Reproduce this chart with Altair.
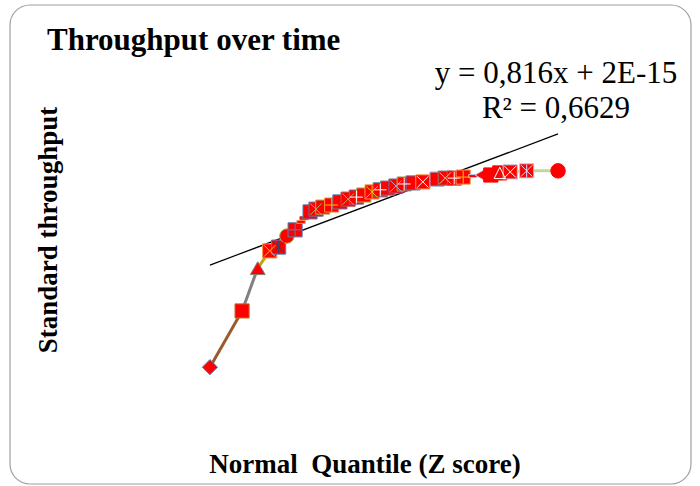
import altair as alt
import pandas as pd

# ---- data ----
z_quantile = [-2.33, -1.90, -1.69, -1.53, -1.41, -1.30, -1.19, -1.11, -1.07, -0.99,
              -0.91, -0.82, -0.70, -0.59, -0.48, -0.37, -0.27, -0.16, -0.05, 0.05,
              0.16, 0.27, 0.39, 0.52, 0.71, 0.82, 0.94, 1.06, 1.19, 1.30,
              1.43, 1.55, 1.69, 1.91, 2.33]
std_throughput = [-4.86, -3.23, -1.99, -1.49, -1.38, -1.06, -0.88, -0.65, -0.54, -0.36,
                  -0.28, -0.22, -0.16, -0.07, 0.01, 0.07, 0.13, 0.22, 0.28, 0.33,
                  0.39, 0.45, 0.48, 0.51, 0.59, 0.62, 0.62, 0.65, 0.68, 0.71,
                  0.71, 0.77, 0.80, 0.83, 0.83]
marker_kind = ["diamond", "square", "triangle-up", "square", "square", "circle", "square", "dash", "dash", "square",
               "square", "square", "square", "square", "square", "square", "square", "square", "square", "square",
               "square", "square", "square", "square", "square", "square", "square", "square", "dash", "triangle-left",
               "square", "square", "square", "square", "circle"]
marker_stroke = ["#4F81BD", "#C0702D", "#7F7F7F", "#F79646", "#4F81BD", "#9BBB59", "#4F81BD", "#F79646", "#C0504D", "#4F81BD",
                 "#8064A2", "#9BBB59", "#F79646", "#4F81BD", "#C0504D", "#8064A2", "#9BBB59", "#F79646", "#4F81BD", "#7F7F7F",
                 "#8064A2", "#9BBB59", "#4F81BD", "#F79646", "#8EB4E3", "#7F7F7F", "#C0504D", "#F79646", "#B7C9E2", "#B7C9E2",
                 "#FF0000", "#FF0000", "#B7C9E2", "#B7C9E2", "#FF0000"]
overlay_kind = ["", "", "", "x", "star", "", "plus", "", "", "",
                "x", "", "plus", "", "x", "plus", "", "star", "plus", "",
                "x", "plus", "", "x", "", "x", "plus", "plus", "", "",
                "", "tri", "x", "star", ""]
overlay_color = ["", "", "", "#FFC000", "#1F497D", "", "#4F81BD", "", "", "",
                 "#9BBB59", "", "#FFC000", "", "#9BBB59", "#FFFFFF", "", "#FFC000", "#FFFFFF", "",
                 "#8EB4E3", "#FFFFFF", "", "#FFFFFF", "", "#C3D69B", "#FFFFFF", "#FFC000", "", "",
                 "", "#FFFFFF", "#FFFFFF", "#D9D9FF", ""]
segment_color = ["#9C5A2C", "#808080", "#C6A300", "#F79646", "#4F81BD", "#9BBB59", "#E46C0A", "#C0504D", "#4F81BD",
                 "#8064A2", "#9BBB59", "#F79646", "#4F81BD", "#C0504D", "#8064A2", "#9BBB59", "#F79646", "#4F81BD",
                 "#7F7F7F", "#8064A2", "#9BBB59", "#4F81BD", "#F79646", "#8EB4E3", "#7F7F7F", "#C0504D", "#F79646",
                 "#B7C9E2", "#B7C9E2", "#B7C9E2", "#C3D69B", "#C3D69B", "#C3D69B", "#C4D79B"]
trend_x = [-2.33, 2.33]
trend_slope = 0.816
trend_intercept = 2e-15
equation_lines = ["y = 0,816x + 2E-15", "R² = 0,6629"]
chart_title = "Throughput over time"
x_title = "Normal\u00a0 Quantile (Z score)"
y_title = "Standard throughput"

# ---- tables ----
shape_paths = {
    "diamond": "diamond",
    "square": "square",
    "triangle-up": "triangle-up",
    "triangle-left": "triangle-left",
    "circle": "circle",
    "dash": "M-1,-0.35H1V0.35H-1Z",
}
shape_sizes = {"diamond": 230, "square": 200, "triangle-up": 220, "triangle-left": 190,
               "circle": 210, "dash": 70}
overlay_paths = {
    "x": "M-0.8,-0.8L0.8,0.8M-0.8,0.8L0.8,-0.8",
    "plus": "M0,-0.9L0,0.9M-0.9,0L0.9,0",
    "star": "M0,-0.9L0,0.9M-0.8,-0.8L0.8,0.8M-0.8,0.8L0.8,-0.8",
    "tri": "M0,-0.8L0.8,0.8L-0.8,0.8Z",
}

pts = pd.DataFrame({
    "x": z_quantile,
    "y": std_throughput,
    "shape": [shape_paths[k] for k in marker_kind],
    "size": [shape_sizes[k] for k in marker_kind],
    "stroke": marker_stroke,
    "ov": overlay_kind,
    "ovc": overlay_color,
})
ov = pts[pts["ov"] != ""].copy()
ov["path"] = [overlay_paths[k] for k in ov["ov"]]

segs = pd.DataFrame({
    "x": z_quantile[:-1], "y": std_throughput[:-1],
    "x2": z_quantile[1:], "y2": std_throughput[1:],
    "c": segment_color,
})
trend = pd.DataFrame({"x": trend_x, "y": [trend_slope * v + trend_intercept for v in trend_x]})

xscale = alt.Scale(domain=[-5.1406, 4.2303], nice=False, zero=False)
yscale = alt.Scale(domain=[-8.3043, 5.7826], nice=False, zero=False)
FONT = "Liberation Serif"
one = pd.DataFrame({"a": [0]})

frame = alt.Chart(one).mark_rect(
    fill="white", fillOpacity=0, stroke="#A0A0A0", strokeWidth=1.2, cornerRadius=20
).encode(x=alt.value(10), x2=alt.value(691), y=alt.value(5), y2=alt.value(484))

trend_line = alt.Chart(trend).mark_line(color="black", strokeWidth=1.2).encode(
    x=alt.X("x:Q", scale=xscale, axis=None),
    y=alt.Y("y:Q", scale=yscale, axis=None),
)

seg_layer = alt.Chart(segs).mark_rule(strokeWidth=3).encode(
    x=alt.X("x:Q", scale=xscale, axis=None),
    y=alt.Y("y:Q", scale=yscale, axis=None),
    x2="x2:Q", y2="y2:Q",
    color=alt.Color("c:N", scale=None),
)

point_layer = alt.Chart(pts).mark_point(filled=True, fill="#FF0000", opacity=1, strokeWidth=1).encode(
    x=alt.X("x:Q", scale=xscale, axis=None),
    y=alt.Y("y:Q", scale=yscale, axis=None),
    shape=alt.Shape("shape:N", scale=None),
    size=alt.Size("size:Q", scale=None),
    stroke=alt.Stroke("stroke:N", scale=None),
)

overlay_layer = alt.Chart(ov).mark_point(filled=False, strokeWidth=1, opacity=1, size=200).encode(
    x=alt.X("x:Q", scale=xscale, axis=None),
    y=alt.Y("y:Q", scale=yscale, axis=None),
    shape=alt.Shape("path:N", scale=None),
    stroke=alt.Stroke("ovc:N", scale=None),
)

equation = alt.Chart(one).mark_text(
    font=FONT, fontSize=31, color="black", align="center", baseline="alphabetic", lineHeight=35
).encode(x=alt.value(556), y=alt.value(83), text=alt.value(equation_lines))

x_title_mark = alt.Chart(one).mark_text(
    font=FONT, fontSize=27, fontWeight="bold", color="black", align="center", baseline="alphabetic"
).encode(x=alt.value(365), y=alt.value(473), text=alt.value(x_title))

y_title_mark = alt.Chart(one).mark_text(
    font=FONT, fontSize=27, fontWeight="bold", color="black", align="center", baseline="middle", angle=270
).encode(x=alt.value(49), y=alt.value(230), text=alt.value(y_title))

chart = alt.layer(frame, trend_line, seg_layer, point_layer, overlay_layer, equation,
                  x_title_mark, y_title_mark).properties(
    width=700, height=486, padding=0,
    autosize=alt.AutoSizeParams(type="none"),
    title=alt.TitleParams(text=chart_title, anchor="start", frame="group", orient="top",
                          offset=0, dx=47, dy=81, font=FONT, fontSize=31, fontWeight="bold",
                          color="black", baseline="alphabetic"),
    background="white",
).configure_view(stroke=None)

chart.save("out.html", embed_options={"renderer": "svg", "actions": False})
